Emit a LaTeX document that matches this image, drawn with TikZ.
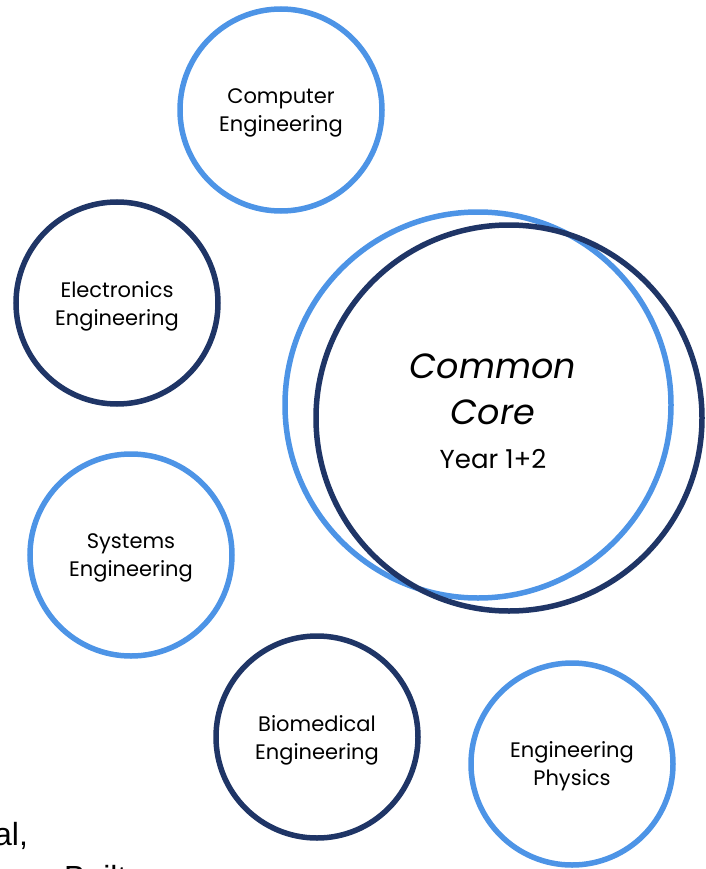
\documentclass[tikz,border=0pt]{standalone}
\usepackage{fontspec}
\setmainfont{Poppins}
\newfontfamily\arialfont{Liberation Sans}
\definecolor{lblue}{HTML}{4D94E6}
\definecolor{navy}{HTML}{1F3566}
\begin{document}
\begin{tikzpicture}[x=1pt,y=-1pt,
  ring/.style={circle,draw,line width=5.5pt,minimum size=202pt,inner sep=0pt},
  lring/.style={ring,draw=lblue},
  dring/.style={ring,draw=navy},
  lbl/.style={align=center,inner sep=0pt,font=\fontsize{21}{28}\selectfont},
  bigring/.style={circle,line width=5.5pt,minimum size=386pt,inner sep=0pt}]
\useasboundingbox (0,0) rectangle (705,869);
\clip (0,0) rectangle (705,869);
\node[bigring,draw=lblue] (cl) at (478,405) {};
\node[bigring,draw=navy] (cd) at (509,418) {};
\node[align=center,inner sep=0pt,anchor=base,font=\fontsize{35}{46}\selectfont\itshape] (cc) at (493,424) {Common\\Core};
\node[inner sep=0pt,anchor=base,font=\fontsize{26}{30}\selectfont] (yr) at (493,468) {Year 1+2};
\node[lring] (comp) at (281,110) {};
\node[lbl] (compt) at (281,113) {Computer\\Engineering};
\node[dring] (elec) at (117,303) {};
\node[lbl] (elect) at (117,306) {Electronics\\Engineering};
\node[lring] (sys) at (131,555) {};
\node[lbl] (syst) at (131,558) {Systems\\Engineering};
\node[dring] (bio) at (317,737) {};
\node[lbl] (biot) at (317,740) {Biomedical\\Engineering};
\node[lring] (phys) at (572,764) {};
\node[lbl] (physt) at (572,766) {Engineering\\Physics};
\node[anchor=base west,inner sep=0pt,font=\arialfont\fontsize{32}{38}\selectfont] (frag1) at (-6,845) {al,};
\node[anchor=base west,inner sep=0pt,font=\arialfont\fontsize{32}{38}\selectfont] (frag2) at (64,888) {Built};
\end{tikzpicture}
\end{document}
